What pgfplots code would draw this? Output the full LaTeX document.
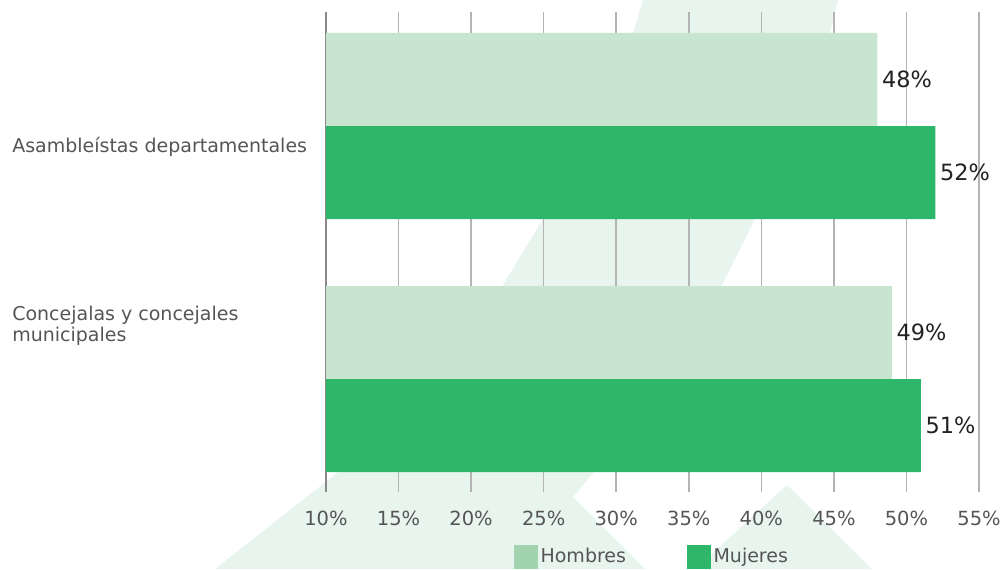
\documentclass[border=0pt]{standalone}
\usepackage{fontspec}
\setmainfont{DejaVu Sans}
\usepackage{pgfplots}
\pgfplotsset{compat=1.18}
\definecolor{hom}{HTML}{C7E5CF}
\definecolor{homleg}{HTML}{A2D3AF}
\definecolor{muj}{HTML}{2EB66A}
\definecolor{wm}{HTML}{E8F5EE}
\definecolor{txt}{HTML}{555555}
\definecolor{val}{HTML}{222222}
\definecolor{gridc}{HTML}{B4B4B4}
\definecolor{axl}{HTML}{8A8A8A}
\begin{document}
\begin{tikzpicture}
\useasboundingbox (0,0) rectangle (752.25pt,426.75pt);
\clip (0,0) rectangle (752.25pt,426.75pt);
\begin{scope}[shift={(0pt,426.75pt)},x=0.75pt,y=-0.75pt]
\fill[wm] (643,0) -- (838,0) -- (830,33) -- (795,125) -- (755,219) -- (722,285) -- (660,380) -- (593,473) -- (573,497) -- (645,569) -- (215,569) -- (337,473) -- (440,370) -- (503,285) -- (543,219) -- (590,130) -- (633,33) -- cycle;
\fill[wm] (787,485) -- (872,569) -- (695,569) -- cycle;
\end{scope}
\begin{axis}[
  at={(244.5pt,57.75pt)}, anchor=south west,
  scale only axis, width=489.75pt, height=360pt,
  xmin=10, xmax=55, ymin=-0.4466, ymax=1.4506,
  axis lines=left,
  axis line style={-},
  x axis line style={draw=none},
  y axis line style={draw=axl, line width=1.5pt},
  xtick={10,15,...,55},
  xticklabel={\pgfmathprintnumber{\tick}\%},
  /pgf/number format/assume math mode=true,
  ytick={0.212,0.918},
  yticklabels={{Concejalas y concejales\\municipales},{Asambleístas departamentales}},
  major tick length=0pt,
  tick style={draw=none},
  xmajorgrids,
  major grid style={draw=gridc, line width=1.1pt},
  xticklabel style={font=\fontsize{14.6}{17}\selectfont, text=txt, yshift=-11pt},
  yticklabel style={font=\fontsize{14.25}{15.75}\selectfont, text=txt, anchor=west, align=left, inner sep=0pt, xshift=-235.5pt},
  legend style={at={(0.5,-0.104)}, anchor=north, legend columns=2, draw=none, fill=none,
    font=\fontsize{14.25}{17}\selectfont, text=txt,
    /tikz/every even column/.append style={column sep=44pt}},
]
\addlegendimage{legend image code/.code={\fill[homleg] (0pt,-8.6pt) rectangle (17.25pt,8.6pt);}}
\addlegendentry{Hombres}
\addlegendimage{legend image code/.code={\fill[muj] (0pt,-8.6pt) rectangle (17.25pt,8.6pt);}}
\addlegendentry{Mujeres}
\addplot[xbar, bar shift=0pt, bar width=0.3676, fill=hom, draw=none, forget plot,
  point meta=x, nodes near coords={\pgfmathprintnumber{\pgfplotspointmeta}\%},
  nodes near coords style={anchor=west, font=\fontsize{16.8}{19}\selectfont, text=val}]
  coordinates {(48,1.1838) (49,0.1838)};
\addplot[xbar, bar shift=0pt, bar width=0.3676, fill=muj, draw=none, forget plot,
  point meta=x, nodes near coords={\pgfmathprintnumber{\pgfplotspointmeta}\%},
  nodes near coords style={anchor=west, font=\fontsize{16.8}{19}\selectfont, text=val}]
  coordinates {(52,0.8162) (51,-0.1838)};
\end{axis}
\end{tikzpicture}
\end{document}
